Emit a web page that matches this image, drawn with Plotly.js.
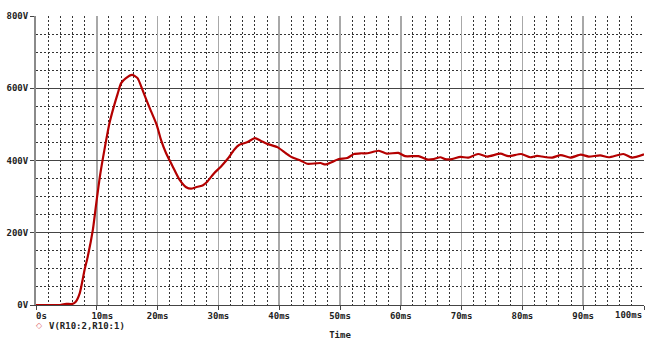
<!DOCTYPE html>
<html>
<head>
<meta charset="utf-8">
<script src="https://cdn.plot.ly/plotly-3.0.1.min.js"></script>
<style>html,body{margin:0;padding:0;background:#fff;}#chart{width:645px;height:340px;}</style>
</head>
<body>
<div id="chart"></div>
<script>
// Time in ms
const timeMs = [0, 2, 4, 4.5, 5, 6, 6.5, 7.2, 8, 8.5, 9.35, 9.9, 10.55, 11.26, 12.08, 12.8, 13.45, 14.0, 14.8, 15.8, 16.7, 17.5, 18.6, 19.84, 20.56, 21.4, 22.5, 23.6, 24.7, 25.5, 26.3, 27.4, 28.2, 29.3, 30.4, 31.5, 32.6, 33.4, 34.8, 36.0, 36.95, 38.05, 39.7, 41.1, 42.1, 43.5, 44.6, 46, 46.8, 47.6, 48.7, 49.8, 51.2, 52.3, 53.4, 54.5, 56.4, 57.7, 59.6, 60.7, 62.9, 64.3, 65.4, 66.5, 67.3, 68.4, 69.8, 71.1, 72.7, 74.2, 76.4, 77.7, 79.8, 81.3, 82.4, 83.2, 84.9, 86.3, 87.9, 89.6, 90.9, 92.8, 94.2, 96.6, 98, 100];
// V(R10:2,R10:1) in volts
const voltage = [0, 0, 0, 2, 3, 3, 8, 33, 98, 133, 208, 280, 360, 430, 503, 549, 586, 614, 628, 637, 628, 596, 549, 499, 457, 420, 383, 347, 326, 322, 326, 331, 342, 365, 383, 404, 430, 443, 451, 462, 455, 446, 437, 420, 409, 400, 391, 392, 393, 389, 396, 404, 407, 418, 420, 420, 427, 419, 421, 412, 412, 403, 404, 409, 404, 404, 410, 408, 418, 411, 419, 412, 418, 409, 413, 411, 408, 415, 408, 416, 411, 414, 409, 418, 408, 417];

const xTickVals = [0, 10, 20, 30, 40, 50, 60, 70, 80, 90, 100];
const xTickText = ["0s", "10ms", "20ms", "30ms", "40ms", "50ms", "60ms", "70ms", "80ms", "90ms", "100ms"];
const yTickVals = [0, 200, 400, 600, 800];
const yTickText = ["0V", "200V", "400V", "600V", "800V"];
const seriesName = "V(R10:2,R10:1)";
const xTitle = "Time";

const NB = "\u00a0";
const lastIdx = xTickText.length - 1;
// The last tick label sits flush with the right edge, drawn as an annotation at the axis value
const xTickShown = xTickText.map((t, i) => {
  if (i === 0 || i === 1) return NB + NB + t;
  if (i === lastIdx) return "";
  return t;
});

const font = {family: "DejaVu Sans Mono, monospace", size: 9, color: "#222", weight: "bold"};

const trace = {
  x: timeMs, y: voltage, type: "scatter", mode: "lines",
  line: {color: "#b40000", width: 2.2, shape: "spline", smoothing: 0.6},
  name: seriesName, showlegend: false, hoverinfo: "skip"
};

const layout = {
  width: 645, height: 340,
  margin: {l: 36, r: 1, t: 16, b: 35},
  paper_bgcolor: "#fff", plot_bgcolor: "#fff",
  showlegend: false,
  font: font,
  xaxis: {
    range: [0, 100], tickmode: "array", tickvals: xTickVals, ticktext: xTickShown,
    showgrid: true, gridcolor: "#a8a8a8", gridwidth: 1.5,
    minor: {dtick: 2, showgrid: true, gridcolor: "#333", griddash: "2px,2px", gridwidth: 1},
    showline: true, linecolor: "#444", linewidth: 1,
    ticks: "outside", ticklen: 4, tickcolor: "#444",
    ticklabelstandoff: -2, ticklabeloverflow: "allow",
    zeroline: false, tickfont: font, automargin: false,
    title: {text: xTitle, font: font, standoff: 17}
  },
  yaxis: {
    range: [0, 800], tickmode: "array", tickvals: yTickVals, ticktext: yTickText,
    showgrid: true, gridcolor: "#444", gridwidth: 1,
    minor: {dtick: 50, showgrid: true, gridcolor: "#333", griddash: "2px,2px", gridwidth: 1},
    showline: true, linecolor: "#8a8a8a", linewidth: 2,
    ticks: "outside", ticklen: 4, tickcolor: "#444",
    zeroline: false, tickfont: font, automargin: false
  },
  annotations: [
    {xref: "x", yref: "paper", x: xTickVals[lastIdx], y: 0, yshift: -10, xanchor: "right", yanchor: "middle",
     text: xTickText[lastIdx], showarrow: false, font: font},
    {xref: "paper", yref: "paper", x: -0.004, y: -0.072, xanchor: "left", yanchor: "middle",
     text: "\u25c7", showarrow: false, font: {family: "DejaVu Sans", size: 8, color: "#e07070"}},
    {xref: "paper", yref: "paper", x: 0.018, y: -0.072, xanchor: "left", yanchor: "middle",
     text: seriesName, showarrow: false, font: font}
  ]
};

Plotly.newPlot("chart", [trace], layout, {displayModeBar: false, staticPlot: true});
</script>
</body>
</html>
